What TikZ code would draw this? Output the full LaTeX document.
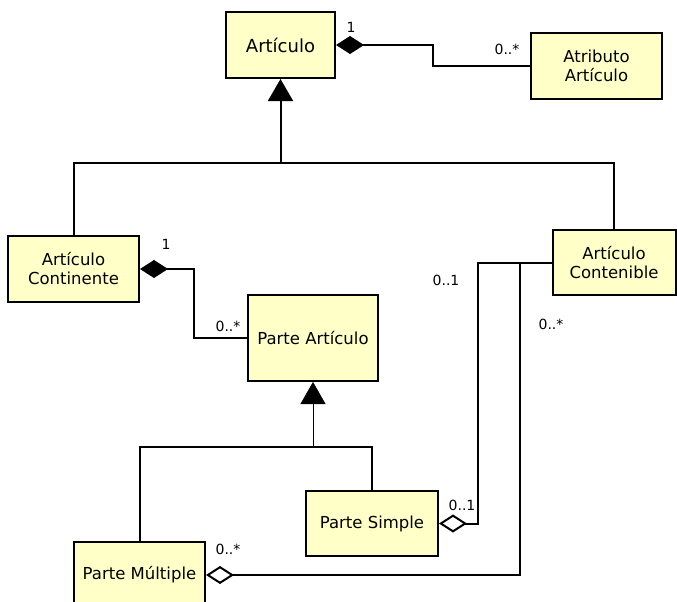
\documentclass[tikz,border=0pt]{standalone}
\usepackage{fontspec}
\setmainfont{DejaVu Sans}
\usetikzlibrary{arrows.meta}
\definecolor{clsfill}{RGB}{255,255,200}

\begin{document}
\begin{tikzpicture}[x=1pt, y=-1pt,
  cls/.style={draw, line width=2pt, fill=clsfill, inner sep=0pt, align=center,
    font=\fontsize{16.5}{19}\selectfont},
  card/.style={inner sep=0pt, font=\fontsize{14}{14}\selectfont},
  link/.style={line width=2pt},
  comp/.style={link, {Diamond[length=28pt, width=18pt]}-},
  aggr/.style={link, {Diamond[open, length=28pt, width=18pt]}-},
  gen/.style={-{Triangle[length=22pt, width=25pt]}}]

  \useasboundingbox (0,0) rectangle (677,602);

  \node[cls, minimum width=109pt, minimum height=66pt, font=\fontsize{18}{21}\selectfont] (art) at (280.5,45) {Artículo};
  \node[cls, minimum width=131pt, minimum height=66pt] (atr) at (596.5,66) {Atributo\\Artículo};
  \node[cls, minimum width=131pt, minimum height=66pt] (cont) at (73.5,269) {Artículo\\Continente};
  \node[cls, minimum width=123pt, minimum height=65pt] (contb) at (614,262.5) {Artículo\\Contenible};
  \node[cls, minimum width=130pt, minimum height=86pt] (parte) at (313,338) {Parte Artículo};
  \node[cls, minimum width=132pt, minimum height=65pt] (simp) at (372,523.5) {Parte Simple};
  \node[cls, minimum width=131pt, minimum height=66pt] (mult) at (139.5,575) {Parte Múltiple};

  \coordinate (g1) at (280.5,163);
  \coordinate (g2) at (313,447);
  \coordinate (j) at (520,262.5);

  \draw[comp] (art.east) -- ++(97,0) |- (atr.west); %% art atr
  \draw[link] (cont.north) |- (g1) -| (contb.north); %% cont contb
  \draw[link, gen] (g1) -- (art.south); %% g1 art
  \draw[comp] (cont.east) -- ++(54,0) |- (parte.west); %% cont parte
  \draw[link] (mult.north) |- (g2) -| (simp.north); %% mult simp
  \draw[gen] (g2) -- (parte.south); %% g2 parte
  \draw[aggr] (simp.east) -- ++(39,0) |- (contb.west); %% simp contb
  \draw[aggr] (mult.east) -| (j); %% mult contb

  \node[card] (m1) at (351,27) {1};
  \node[card] (m2) at (507,49) {0..*};
  \node[card] (m3) at (166,244) {1};
  \node[card] (m4) at (228,326) {0..*};
  \node[card] (m5) at (446,280) {0..1};
  \node[card] (m6) at (551,324) {0..*};
  \node[card] (m7) at (462,505) {0..1};
  \node[card] (m8) at (228,549) {0..*};

\end{tikzpicture}
\end{document}
